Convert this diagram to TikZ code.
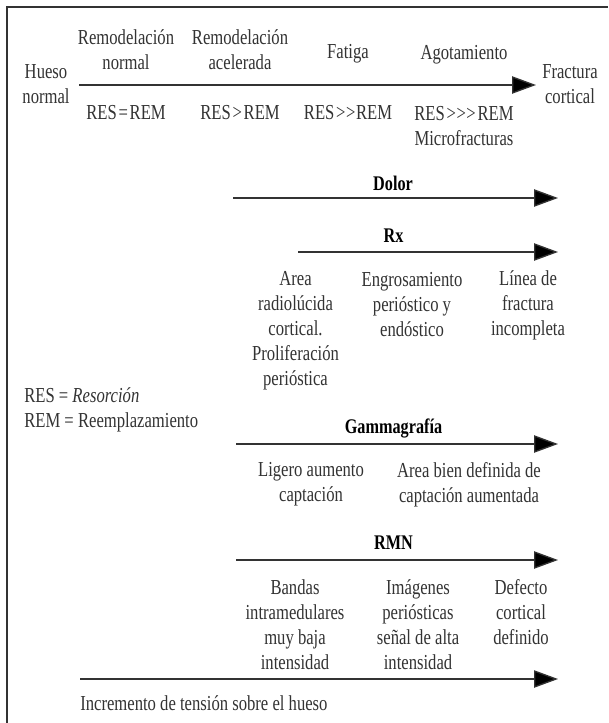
\documentclass[tikz,border=0pt]{standalone}
\usepackage{fontspec}
\setmainfont[FakeStretch=0.78]{Liberation Serif}
\usetikzlibrary{arrows.meta}
\definecolor{ink}{gray}{0.2}
\newcommand{\gtk}{\kern0.4pt>\kern0.4pt}
\newcommand{\tn}{\kern1.3pt}
\tikzset{
  x=0.75pt,y=-0.75pt,
  lab/.style={align=center,inner sep=0pt,text=ink,font=\fontsize{16}{18.75}\selectfont,anchor=center},
  hd/.style={lab,text=black,font=\fontsize{15.6}{18.75}\selectfont\bfseries},
  leftlab/.style={lab,align=left,anchor=west},
  arr/.style={draw=ink,line width=1pt,-{Triangle[length=18pt,width=13pt,fill=black]}},
  frm/.style={draw=ink,line width=1.1pt}
}
\begin{document}
\begin{tikzpicture}
\useasboundingbox (0,0) rectangle (608,723);
\fill[white] (0,0) rectangle (608,723);
\coordinate (fa) at (7,723); \coordinate (fb) at (7,7); \coordinate (fc) at (608,7);
\draw[frm] (fa) -- (fb) -- (fc);
% top row
\node[lab] (hueso) at (46,84) {Hueso\\normal};
\node[lab] (rn) at (126,49.5) {Remodelación\\normal};
\node[lab] (ra) at (240,49.5) {Remodelación\\acelerada};
\node[lab] (fat) at (348,54) {Fatiga};
\node[lab] (ago) at (464,55) {Agotamiento};
\node[lab] (frac) at (570,84) {Fractura\\cortical};
\coordinate (a1) at (79,85); \coordinate (a2) at (536,85);
\draw[arr] (a1) -- (a2);
\node[lab] (r1) at (126,113) {RES\tn=\tn REM};
\node[lab] (r2) at (240,113) {RES\tn>\tn REM};
\node[lab] (r3) at (348,113) {RES\tn>\gtk REM};
\node[lab] (r4) at (464,126.5) {RES\tn>\gtk>\tn REM\\Microfracturas};
% dolor
\node[hd] (dolor) at (393,183) {Dolor};
\coordinate (d1) at (233,198); \coordinate (d2) at (558,198);
\draw[arr] (d1) -- (d2);
% rx
\node[hd] (rx) at (393.5,236) {Rx};
\coordinate (x1) at (298,252); \coordinate (x2) at (558,252);
\draw[arr] (x1) -- (x2);
\node[lab] (rxa) at (295.5,330.5) {Area\\radiolúcida\\cortical.\\Proliferación\\perióstica};
\node[lab] (rxb) at (412,305) {Engrosamiento\\perióstico y\\endóstico};
\node[lab] (rxc) at (528,305) {Línea de\\fractura\\incompleta};
% legend
\node[leftlab] (leg) at (24,410) {RES = \textit{Resorción}\\REM = Reemplazamiento};
% gammagrafia
\node[hd] (gam) at (393.5,428) {Gammagrafía};
\coordinate (g1) at (236,444); \coordinate (g2) at (558,444);
\draw[arr] (g1) -- (g2);
\node[lab] (ga) at (311,484.5) {Ligero aumento\\captación};
\node[lab] (gb) at (469,484.5) {Area bien definida de\\captación aumentada};
% rmn
\node[hd] (rmn) at (393.5,543) {RMN};
\coordinate (m1) at (236,560); \coordinate (m2) at (558,560);
\draw[arr] (m1) -- (m2);
\node[lab] (ma) at (295,625) {Bandas\\intramedulares\\muy baja\\intensidad};
\node[lab] (mb) at (418,625) {Imágenes\\periósticas\\señal de alta\\intensidad};
\node[lab] (mc) at (521,612.5) {Defecto\\cortical\\definido};
% bottom
\coordinate (b1) at (80,679); \coordinate (b2) at (558,679);
\draw[arr] (b1) -- (b2);
\node[leftlab] (inc) at (80,703) {Incremento de tensión sobre el hueso};
\end{tikzpicture}
\end{document}
